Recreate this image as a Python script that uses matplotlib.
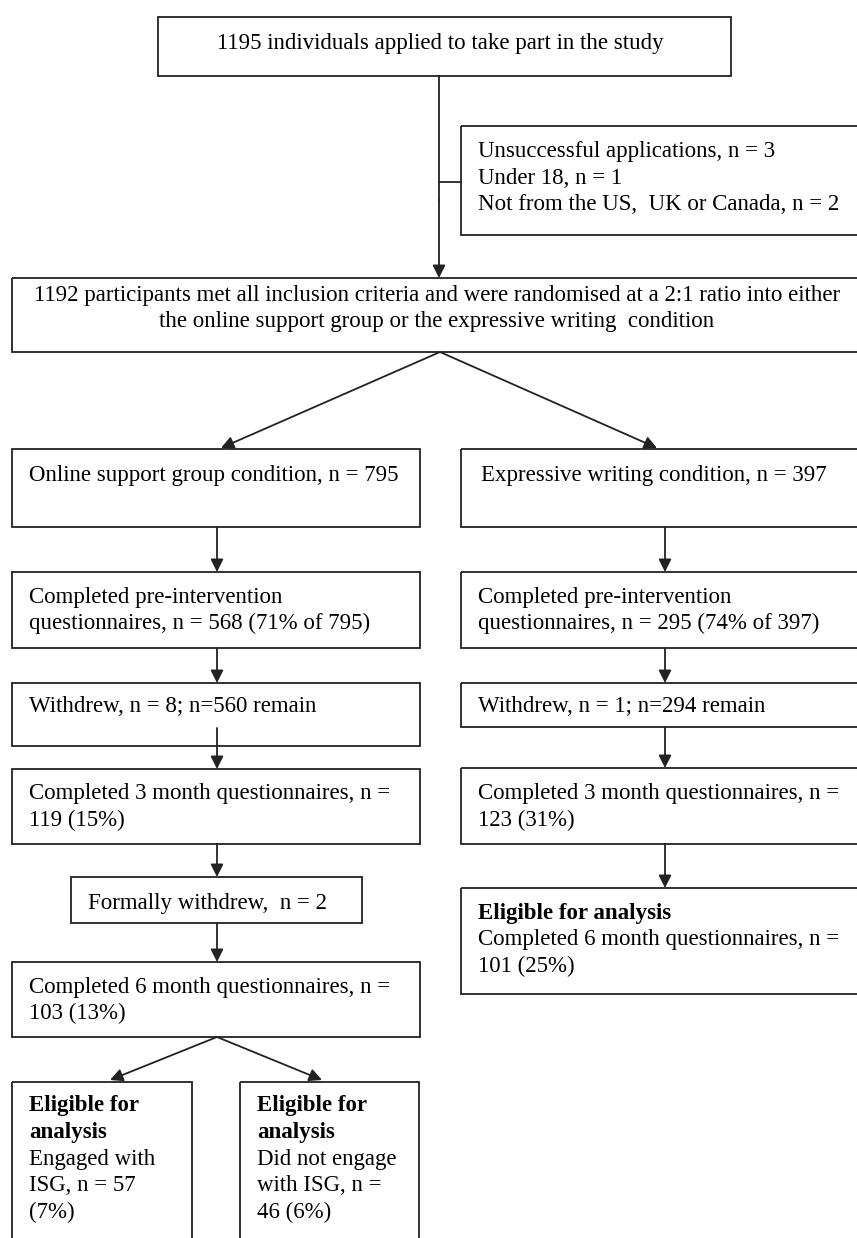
import matplotlib.pyplot as plt
from matplotlib.patches import Rectangle

plt.rcParams['font.family'] = ['Liberation Serif', 'DejaVu Serif']

# text of each box, line by line
applied = ["1195 individuals applied to take part in the study"]
excluded = ["Unsuccessful applications, n = 3",
            "Under 18, n = 1",
            "Not from the US,  UK or Canada, n = 2"]
randomised = ["1192 participants met all inclusion criteria and were randomised at a 2:1 ratio into either",
              "the online support group or the expressive writing  condition"]

osg_condition = ["Online support group condition, n = 795"]
osg_pre = ["Completed pre-intervention", "questionnaires, n = 568 (71% of 795)"]
osg_withdrew = ["Withdrew, n = 8; n=560 remain"]
osg_3month = ["Completed 3 month questionnaires, n =", "119 (15%)"]
osg_formal = ["Formally withdrew,  n = 2"]
osg_6month = ["Completed 6 month questionnaires, n =", "103 (13%)"]
osg_engaged = ["Eligible for", "analysis", "Engaged with", "ISG, n = 57", "(7%)"]
osg_not_engaged = ["Eligible for", "analysis", "Did not engage", "with ISG, n =", "46 (6%)"]

ew_condition = ["Expressive writing condition, n = 397"]
ew_pre = ["Completed pre-intervention", "questionnaires, n = 295 (74% of 397)"]
ew_withdrew = ["Withdrew, n = 1; n=294 remain"]
ew_3month = ["Completed 3 month questionnaires, n =", "123 (31%)"]
ew_6month = ["Eligible for analysis", "Completed 6 month questionnaires, n =", "101 (25%)"]

FS = 16.5
LC = "#222222"
LW = 1.3
STEP = 26.5

fig = plt.figure(figsize=(8.57, 12.38), dpi=100)
ax = fig.add_axes([0, 0, 1, 1])
ax.set_xlim(0, 857)
ax.set_ylim(1238, 0)
ax.axis("off")


def box(x0, y0, x1, y1):
    ax.add_patch(Rectangle((x0, y0), x1 - x0, y1 - y0, fill=False,
                           edgecolor=LC, lw=LW))


def write(x, y, lines, n_bold=0, ha="left"):
    for i, s in enumerate(lines):
        ax.text(x, y + 2 + i * STEP, s, fontsize=FS, ha=ha, va="center",
                fontweight="bold" if i < n_bold else "normal", color="black")


def arrow(x0, y0, x1, y1):
    ax.annotate("", xy=(x1, y1), xytext=(x0, y0),
                arrowprops=dict(arrowstyle="-|>", color=LC, lw=LW,
                                mutation_scale=19, shrinkA=0, shrinkB=0))


# top part
box(158, 17, 731, 76)
write(217, 42, applied)
box(461, 126, 880, 235)
write(478, 150, excluded)
ax.plot([439, 439], [76, 200], color=LC, lw=LW)
ax.plot([439, 461], [182, 182], color=LC, lw=LW)
arrow(439, 200, 439, 278)
box(12, 278, 880, 352)
write(437, 293, randomised, ha="center")

arrow(440, 352, 221, 448)
arrow(440, 352, 657, 448)

# online support group column
LX, TX = 217, 29
box(12, 449, 420, 527)
write(TX, 473, osg_condition)
arrow(LX, 527, LX, 572)
box(12, 572, 420, 648)
write(TX, 595, osg_pre)
arrow(LX, 648, LX, 683)
box(12, 683, 420, 746)
write(TX, 705, osg_withdrew)
arrow(LX, 728, LX, 769)
box(12, 769, 420, 844)
write(TX, 792, osg_3month)
arrow(LX, 844, LX, 877)
box(71, 877, 362, 923)
write(88, 901, osg_formal)
arrow(LX, 923, LX, 962)
box(12, 962, 420, 1037)
write(TX, 985, osg_6month)
arrow(LX, 1037, 110, 1080)
arrow(LX, 1037, 322, 1080)
box(12, 1082, 192, 1300)
write(29, 1104, osg_engaged, n_bold=2)
box(240, 1082, 419, 1300)
write(257, 1104, osg_not_engaged, n_bold=2)

# expressive writing column
RX, RT = 665, 478
box(461, 449, 880, 527)
write(481, 474, ew_condition)
arrow(RX, 527, RX, 572)
box(461, 572, 880, 648)
write(RT, 595, ew_pre)
arrow(RX, 648, RX, 683)
box(461, 683, 880, 727)
write(RT, 705, ew_withdrew)
arrow(RX, 727, RX, 768)
box(461, 768, 880, 844)
write(RT, 792, ew_3month)
arrow(RX, 844, RX, 888)
box(461, 888, 880, 994)
write(RT, 911, ew_6month, n_bold=1)

fig.savefig("out.png", dpi=100, facecolor="white")
